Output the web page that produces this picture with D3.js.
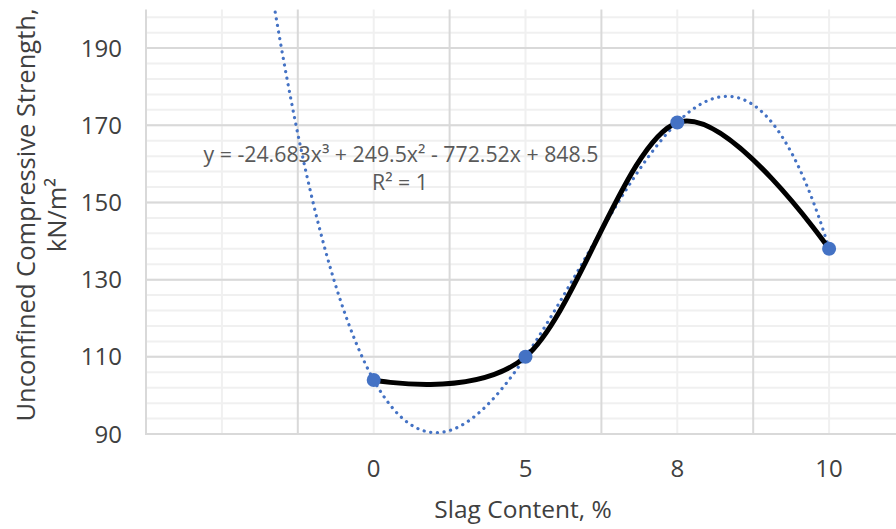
<!DOCTYPE html>
<html>
<head>
<meta charset="utf-8">
<script src="https://cdn.jsdelivr.net/npm/d3@7/dist/d3.min.js"></script>
<style>
  html, body { margin: 0; padding: 0; background: #ffffff; }
  svg { display: block; font-family: "Open Sans", "Noto Sans", sans-serif; }
</style>
</head>
<body>
<svg id="chart" width="896" height="529"></svg>
<script>
// Slag content categories (first slot is an empty category on the axis)
const categories = ["", "0", "5", "8", "10"];
// Unconfined compressive strength, kN/m², per category
const strength = [null, 104, 110, 170.7, 138];
// Cubic trendline coefficients: a x^3 + b x^2 + c x + d (x = category index, 1-based)
const trendCoef = [-24.683, 249.5, -772.52, 848.5];
const trendLabel = "y = -24.683x³ + 249.5x² - 772.52x + 848.5";
const r2Label = "R² = 1";
// Value axis
const yMajorTicks = [90, 110, 130, 150, 170, 190];
const yMinorTicks = d3.range(90, 200.1, 4);

const svg = d3.select("#chart");
const plot = { left: 146, right: 905, top: 9.5, bottom: 434 };

const x = d3.scaleLinear().domain([0.5, categories.length + 0.5]).range([plot.left, plot.right]);
const y = d3.scaleLinear().domain([90, 200]).range([plot.bottom, plot.top]);

const grid = svg.append("g");
// horizontal minor gridlines
grid.selectAll("line.hmin").data(yMinorTicks).join("line")
  .attr("x1", plot.left).attr("x2", plot.right)
  .attr("y1", d => y(d)).attr("y2", d => y(d))
  .attr("stroke", "#f0f0f0").attr("stroke-width", 2);
// vertical minor gridlines at category centres
grid.selectAll("line.vmin").data(d3.range(1, categories.length + 1)).join("line")
  .attr("x1", d => x(d)).attr("x2", d => x(d))
  .attr("y1", plot.top).attr("y2", plot.bottom)
  .attr("stroke", "#f0f0f0").attr("stroke-width", 2);
// horizontal major gridlines
grid.selectAll("line.hmaj").data(yMajorTicks.filter(d => d > 90)).join("line")
  .attr("x1", plot.left).attr("x2", plot.right)
  .attr("y1", d => y(d)).attr("y2", d => y(d))
  .attr("stroke", "#d9d9d9").attr("stroke-width", 2);
// vertical major gridlines at category boundaries
grid.selectAll("line.vmaj").data(d3.range(0.5, categories.length + 0.6, 1)).join("line")
  .attr("x1", d => x(d)).attr("x2", d => x(d))
  .attr("y1", plot.top).attr("y2", plot.bottom)
  .attr("stroke", "#d9d9d9").attr("stroke-width", 2);
// category axis line
svg.append("line")
  .attr("x1", plot.left - 1).attr("x2", plot.right)
  .attr("y1", plot.bottom).attr("y2", plot.bottom)
  .attr("stroke", "#d9d9d9").attr("stroke-width", 2);

// value axis labels
svg.append("g").selectAll("text").data(yMajorTicks).join("text")
  .attr("x", 122).attr("y", d => y(d))
  .attr("dy", "0.36em")
  .attr("text-anchor", "end")
  .attr("font-size", 24)
  .attr("fill", "#404040")
  .text(d => d);

// category labels
svg.append("g").selectAll("text").data(categories).join("text")
  .attr("x", (d, i) => x(i + 1)).attr("y", 477)
  .attr("text-anchor", "middle")
  .attr("font-size", 24)
  .attr("fill", "#404040")
  .text(d => d);

// axis titles
svg.append("text")
  .attr("x", 523).attr("y", 518)
  .attr("text-anchor", "middle")
  .attr("font-size", 24.5)
  .attr("fill", "#404040")
  .text("Slag Content, %");

const yTitle = svg.append("text")
  .attr("transform", "translate(0,215) rotate(-90)")
  .attr("text-anchor", "middle")
  .attr("font-size", 25.5)
  .attr("fill", "#404040");
yTitle.append("tspan").attr("x", 0).attr("y", 35).text("Unconfined Compressive Strength,");
yTitle.append("tspan").attr("x", 0).attr("y", 66).text("kN/m²");

// clip marks to the plot area
svg.append("defs").append("clipPath").attr("id", "plotClip")
  .append("rect")
  .attr("x", plot.left).attr("y", plot.top)
  .attr("width", plot.right - plot.left).attr("height", plot.bottom - plot.top);

// trendline evaluated from its stated equation
const poly = t => ((trendCoef[0] * t + trendCoef[1]) * t + trendCoef[2]) * t + trendCoef[3];
const trendX = d3.range(1, 5.0001, 0.01);
svg.append("path")
  .datum(trendX)
  .attr("clip-path", "url(#plotClip)")
  .attr("fill", "none")
  .attr("stroke", "#4472c4")
  .attr("stroke-width", 3.2)
  .attr("stroke-linecap", "round")
  .attr("stroke-dasharray", "0.1 6.6")
  .attr("d", d3.line().x(t => x(t)).y(t => y(poly(t))));

// smoothed data line
const pts = strength.map((v, i) => ({ i: i + 1, v })).filter(d => d.v != null);
svg.append("path")
  .datum(pts)
  .attr("fill", "none")
  .attr("stroke", "#000000")
  .attr("stroke-width", 5)
  .attr("stroke-linejoin", "round")
  .attr("d", d3.line().x(d => x(d.i)).y(d => y(d.v)).curve(d3.curveCardinal.tension(0)));

// markers
svg.append("g").selectAll("circle").data(pts).join("circle")
  .attr("cx", d => x(d.i)).attr("cy", d => y(d.v))
  .attr("r", 7)
  .attr("fill", "#4472c4");

// trendline equation
svg.append("text")
  .attr("x", 401).attr("y", 162)
  .attr("text-anchor", "middle")
  .attr("font-size", 21.3)
  .attr("fill", "#595959")
  .text(trendLabel);
svg.append("text")
  .attr("x", 400).attr("y", 190)
  .attr("text-anchor", "middle")
  .attr("font-size", 21.3)
  .attr("fill", "#595959")
  .text(r2Label);
</script>
</body>
</html>
